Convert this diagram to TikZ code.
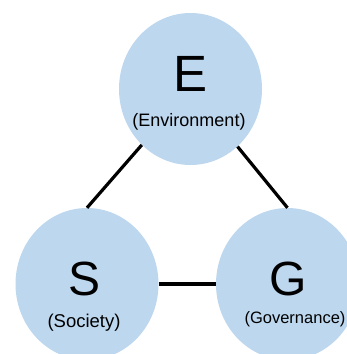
\documentclass[tikz,border=0pt]{standalone}
\usepackage{fontspec}
\setmainfont{Liberation Sans}
\usetikzlibrary{shapes.geometric}
\definecolor{esgblue}{RGB}{189,215,238}
\tikzset{
  pillar/.style={ellipse, fill=esgblue, draw=none, minimum width=143pt, minimum height=152pt, inner sep=0pt},
  bigletter/.style={anchor=base, inner sep=0pt, font=\fontsize{51}{51}\selectfont},
  sublabel/.style={anchor=base, inner sep=0pt, font=\fontsize{#1}{#1}\selectfont},
  link/.style={draw=black, line width=3.2pt}
}
\begin{document}
\begin{tikzpicture}[x=1pt,y=1pt]
\useasboundingbox (0,0) rectangle (347,-354);
\node[pillar] (E) at (190.5,-89) {};
\node[pillar] (S) at (87,-284) {};
\node[pillar] (G) at (287.5,-284) {};
\draw[link] (E) -- (S.north);
\draw[link] (E) -- (G.north);
\draw[link] (S) -- (G);
\node[bigletter] (Et) at (190.5,-91) {E};
\node[sublabel=18] (El) at (189,-126) {(Environment)};
\node[bigletter, font=\fontsize{48}{48}\selectfont] (St) at (84.5,-295) {S};
\node[sublabel=18.5] (Sl) at (84,-327) {(Society)};
\node[bigletter, font=\fontsize{48}{48}\selectfont] (Gt) at (288,-295) {G};
\node[sublabel=16.5] (Gl) at (295,-323) {(Governance)};
\end{tikzpicture}
\end{document}
